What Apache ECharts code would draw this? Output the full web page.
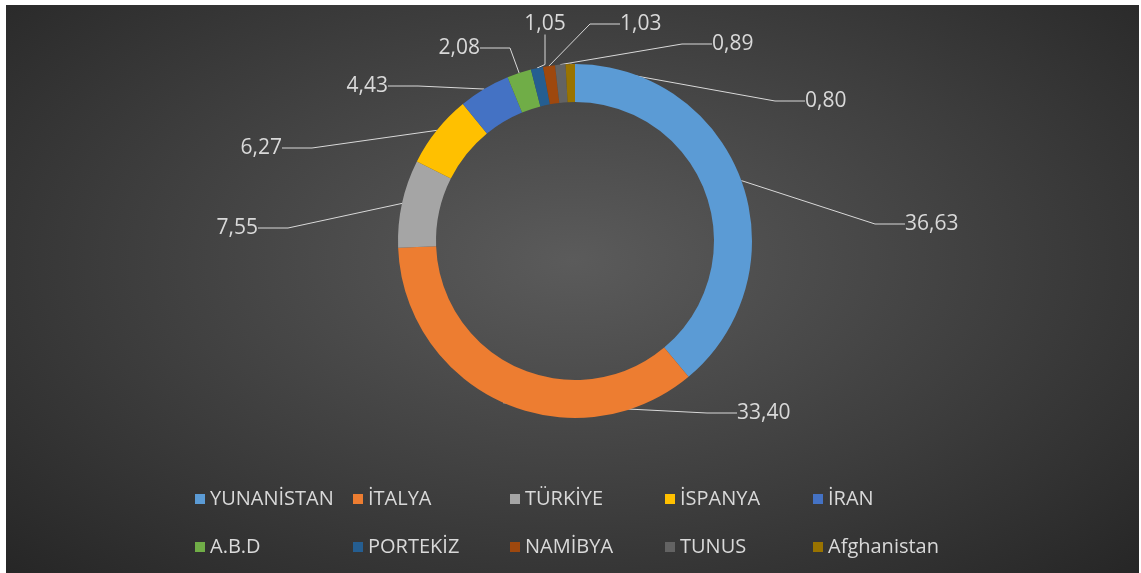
<!DOCTYPE html>
<html>
<head>
<meta charset="utf-8">
<script src="https://cdn.jsdelivr.net/npm/echarts@6/dist/echarts.min.js"></script>
<style>
  html, body { margin: 0; padding: 0; background: #ffffff; }
  #chart {
    position: absolute; left: 6px; top: 5px; width: 1133px; height: 568px;
    background: radial-gradient(ellipse at 50% 45%, #5b5b5b 0%, #3e3e3e 55%, #262626 100%);
  }
</style>
</head>
<body>
<div id="chart"></div>
<script>
// ülkeler ve değerleri
const countries = ['YUNANİSTAN', 'İTALYA', 'TÜRKİYE', 'İSPANYA', 'İRAN', 'A.B.D', 'PORTEKİZ', 'NAMİBYA', 'TUNUS', 'Afghanistan']
const values = [36.63, 33.40, 7.55, 6.27, 4.43, 2.08, 1.05, 1.03, 0.89, 0.80]
const colors = ['#5b9bd5', '#ed7d31', '#a5a5a5', '#ffc000', '#4472c4', '#70ad47', '#255e91', '#9e480e', '#636363', '#997300']

// etiketlerin yerleri (x, y, hizalama)
const labelSpots = [
    [899, 219, 'left'], [731, 408, 'left'], [252, 223, 'right'], [276, 143, 'right'],
    [382, 81, 'right'], [474, 43, 'right'], [539, 19, 'center'], [614, 19, 'left'],
    [706, 39, 'left'], [799, 96, 'left']
]
// lejant sütunlarının sol kenarları
const legendLefts = [184, 342, 499, 654, 802]

const chartInstance = echarts.init(document.getElementById('chart'))

const legends = legendLefts.map((left, i) => ({
    orient: 'vertical',
    left: left,
    top: 478,
    itemWidth: 10,
    itemHeight: 10,
    itemGap: 26,
    icon: 'rect',
    data: [countries[i], countries[i + 5]],
    textStyle: {
        color: '#d9d9d9',
        fontSize: 20,
        lineHeight: 22,
        fontFamily: 'Open Sans'
    }
}))

const option = {
    backgroundColor: 'transparent',
    color: colors,
    legend: legends,
    series: [
        {
            type: 'pie',
            center: [569, 236],
            radius: [139, 177],
            startAngle: 90,
            clockwise: true,
            avoidLabelOverlap: false,
            data: countries.map((name, i) => ({ name: name, value: values[i] })),
            itemStyle: { borderWidth: 0 },
            label: {
                show: true,
                color: '#d9d9d9',
                fontSize: 21,
                fontFamily: 'Open Sans',
                formatter: p => p.value.toFixed(2).replace('.', ',')
            },
            labelLine: {
                show: true,
                lineStyle: { color: '#d9d9d9', width: 1 }
            },
            labelLayout: (params) => {
                const s = labelSpots[params.dataIndex]
                return {
                    x: s[0],
                    y: s[1],
                    align: s[2],
                    verticalAlign: 'middle'
                }
            },
            emphasis: { disabled: true }
        }
    ]
}
chartInstance.setOption(option)
</script>
</body>
</html>
